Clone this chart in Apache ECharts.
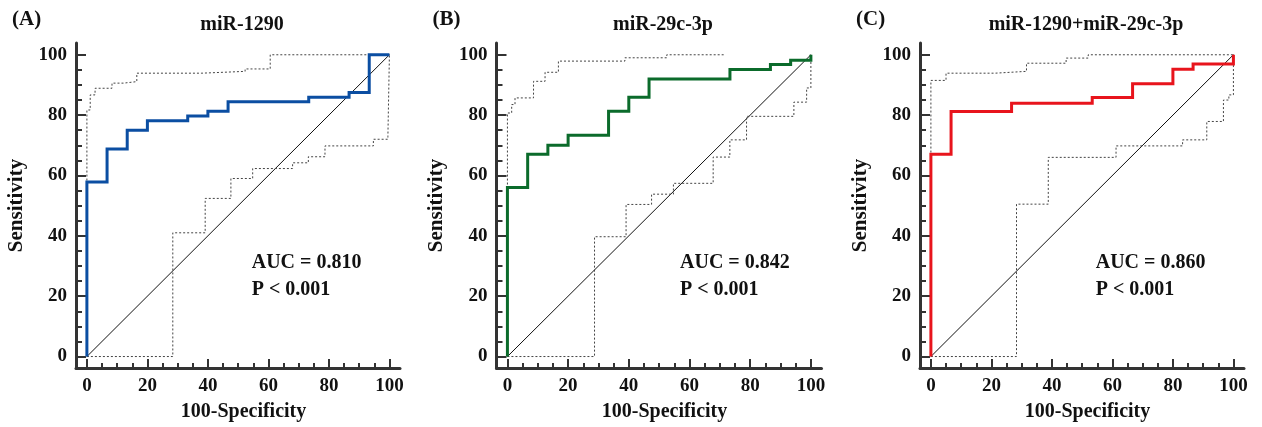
<!DOCTYPE html>
<html>
<head>
<meta charset="utf-8">
<script src="https://cdn.jsdelivr.net/npm/echarts@6/dist/echarts.min.js"></script>
<style>
  html, body { margin: 0; padding: 0; background: #fff; }
  #main { width: 1262px; height: 427px; }
</style>
</head>
<body>
<div id="main"></div>
<script>
// 三个面板的文字
var panelLetters = ['(A)', '(B)', '(C)'];
var panelTitles = ['miR-1290', 'miR-29c-3p', 'miR-1290+miR-29c-3p'];
var aucTexts = ['AUC = 0.810', 'AUC = 0.842', 'AUC = 0.860'];
var pTexts = ['P < 0.001', 'P < 0.001', 'P < 0.001'];
var lineColors = ['#0b4ea2', '#0b6b2b', '#e8141c'];

// 刻度
var majorTicks = [0, 20, 40, 60, 80, 100];
var minorTicks = [0, 5, 10, 15, 20, 25, 30, 35, 40, 45, 50, 55, 60, 65, 70, 75, 80, 85, 90, 95, 100];

// 对角参考线
var diagX = [0, 100];
var diagY = [0, 100];

// (A) miR-1290
var rocA_x = [0, 0, 6.67, 13.33, 20, 33.33, 40, 46.67, 73.33, 86.67, 93.33, 100];
var rocA_y = [0, 57.8, 68.8, 75, 78.1, 79.7, 81.3, 84.4, 85.9, 87.5, 100, 100];
var upA_x = [0, 0, 1.1, 2.7, 8.3, 12.1, 16.5, 38, 52.3, 60.6, 100];
var upA_y = [0, 81.7, 86.7, 88.9, 90.6, 91.1, 93.9, 94.5, 95.3, 100, 100];
var lowA_x = [0, 28.4, 39.1, 47.6, 54.8, 68, 73.2, 78.7, 94.7, 99.5, 100];
var lowA_y = [0, 41, 52.4, 59, 62.3, 64.2, 66.2, 69.8, 72, 73, 100];

// (B) miR-29c-3p
var rocB_x = [0, 0, 6.67, 13.33, 20, 33.33, 40, 46.67, 73.33, 86.67, 93.33, 100];
var rocB_y = [0, 56, 67, 70, 73.3, 81.3, 85.9, 92, 95.1, 96.8, 98.2, 100];
var upB_x = [0, 0, 1.4, 2.5, 8.6, 12.4, 16.8, 38.7, 52.5, 71.3];
var upB_y = [0, 80.7, 83.5, 85.7, 91.2, 94.2, 97.9, 99, 100, 100];
var lowB_x = [0, 28.7, 39.1, 47.5, 54.7, 67.8, 73.3, 78.8, 94.4, 98.6, 100];
var lowB_y = [0, 39.7, 50.4, 53.8, 57.4, 66.1, 71.8, 79.6, 84.3, 89, 100];

// (C) miR-1290+miR-29c-3p
var rocC_x = [0, 0, 6.67, 26.67, 53.33, 66.67, 80, 86.67, 100];
var rocC_y = [0, 67, 81.2, 83.9, 85.8, 90.4, 95.2, 96.9, 100];
var upC_x = [0, 0, 5, 21.2, 31.6, 44.7, 52, 100];
var upC_y = [0, 91.5, 93.9, 94.5, 97.2, 98.9, 100, 100];
var lowC_x = [0, 28.3, 38.8, 61.2, 83.2, 91.2, 96.7, 98.5, 100];
var lowC_y = [0, 50.5, 66, 69.8, 71.8, 77.9, 85, 86.7, 100];

var rocX = [rocA_x, rocB_x, rocC_x], rocY = [rocA_y, rocB_y, rocC_y];
var upX = [upA_x, upB_x, upC_x], upY = [upA_y, upB_y, upC_y];
var lowX = [lowA_x, lowB_x, lowC_x], lowY = [lowA_y, lowB_y, lowC_y];

// 面板位置
var gridLefts = [76, 496.5, 920];
var gridWidths = [324, 325, 324];
var gridTop = 43, gridHeight = 325;
var aucLeft = [251.7, 680, 1095.7];

var font = '"Liberation Serif", "Times New Roman", serif';
var axisColor = '#333';

function zip (xs, ys) {
  var out = [];
  for (var i = 0; i < xs.length; i++) out.push([xs[i], ys[i]]);
  return out;
}

var grid = [], xAxis = [], yAxis = [], series = [], title = [];

for (var p = 0; p < 3; p++) {
  grid.push({ left: gridLefts[p], top: gridTop, width: gridWidths[p], height: gridHeight });

  // 主刻度 + 标签 + 轴线
  xAxis.push({
    type: 'value', gridIndex: p, position: 'bottom', min: -3.6, max: 103.5,
    name: '100-Specificity', nameLocation: 'middle', nameGap: 34,
    nameTextStyle: { fontFamily: font, fontWeight: 'bold', fontSize: 20, color: '#111', padding: [0, 0, 0, 11] },
    axisLine: { show: true, onZero: false, lineStyle: { color: axisColor, width: 3 } },
    axisTick: { show: true, inside: true, length: 9, customValues: majorTicks, lineStyle: { color: axisColor, width: 2 } },
    axisLabel: { customValues: majorTicks, margin: 9, fontFamily: font, fontWeight: 'bold', fontSize: 19, color: '#111' },
    splitLine: { show: false }
  });
  // 次刻度
  xAxis.push({
    type: 'value', gridIndex: p, position: 'bottom', min: -3.6, max: 103.5,
    axisLine: { show: false, onZero: false },
    axisTick: { show: true, inside: true, length: 5, customValues: minorTicks, lineStyle: { color: axisColor, width: 2 } },
    axisLabel: { show: false },
    splitLine: { show: false }
  });
  yAxis.push({
    type: 'value', gridIndex: p, position: 'left', min: -3.8, max: 103.9,
    name: 'Sensitivity', nameLocation: 'middle', nameGap: 49, nameRotate: 90,
    nameTextStyle: { fontFamily: font, fontWeight: 'bold', fontSize: 21, color: '#111' },
    axisLine: { show: true, onZero: false, lineStyle: { color: axisColor, width: 3 } },
    axisTick: { show: true, inside: true, length: 10, customValues: majorTicks, lineStyle: { color: axisColor, width: 2 } },
    axisLabel: { customValues: majorTicks, margin: 9, fontFamily: font, fontWeight: 'bold', fontSize: 19, color: '#111' },
    splitLine: { show: false }
  });
  yAxis.push({
    type: 'value', gridIndex: p, position: 'left', min: -3.8, max: 103.9,
    axisLine: { show: false, onZero: false },
    axisTick: { show: true, inside: true, length: 6, customValues: minorTicks, lineStyle: { color: axisColor, width: 2 } },
    axisLabel: { show: false },
    splitLine: { show: false }
  });

  var base = { type: 'line', xAxisIndex: p * 2, yAxisIndex: p * 2, symbol: 'none', silent: true };
  series.push(Object.assign({}, base, {
    data: zip(diagX, diagY), lineStyle: { color: '#111', width: 1 }
  }));
  series.push(Object.assign({}, base, {
    data: zip(lowX[p], lowY[p]), step: 'end', lineStyle: { color: '#444', width: 1, type: [2, 2] }
  }));
  series.push(Object.assign({}, base, {
    data: zip(upX[p], upY[p]), step: 'end', lineStyle: { color: '#444', width: 1, type: [2, 2] }
  }));
  series.push(Object.assign({}, base, {
    data: zip(rocX[p], rocY[p]), step: 'end', lineStyle: { color: lineColors[p], width: 3, join: 'miter' }
  }));

  var cx = gridLefts[p] + gridWidths[p] * 0.5 + 4;
  title.push({
    text: panelLetters[p], left: gridLefts[p] - 64, top: 9, padding: 0,
    textStyle: { fontFamily: font, fontWeight: 'bold', fontSize: 21, color: '#111' }
  });
  title.push({
    text: panelTitles[p], left: cx, top: 15, padding: 0, textAlign: 'center',
    textStyle: { fontFamily: font, fontWeight: 'bold', fontSize: 20, color: '#111' }
  });
  title.push({
    text: aucTexts[p] + '\n' + pTexts[p], left: aucLeft[p], top: 249, padding: 0,
    textStyle: { fontFamily: font, fontWeight: 'bold', fontSize: 20, lineHeight: 27, color: '#111' }
  });
}

var myChart = echarts.init(document.getElementById('main'));
myChart.setOption({
  animation: false,
  backgroundColor: '#fff',
  title: title,
  grid: grid,
  xAxis: xAxis,
  yAxis: yAxis,
  series: series
});
</script>
</body>
</html>
